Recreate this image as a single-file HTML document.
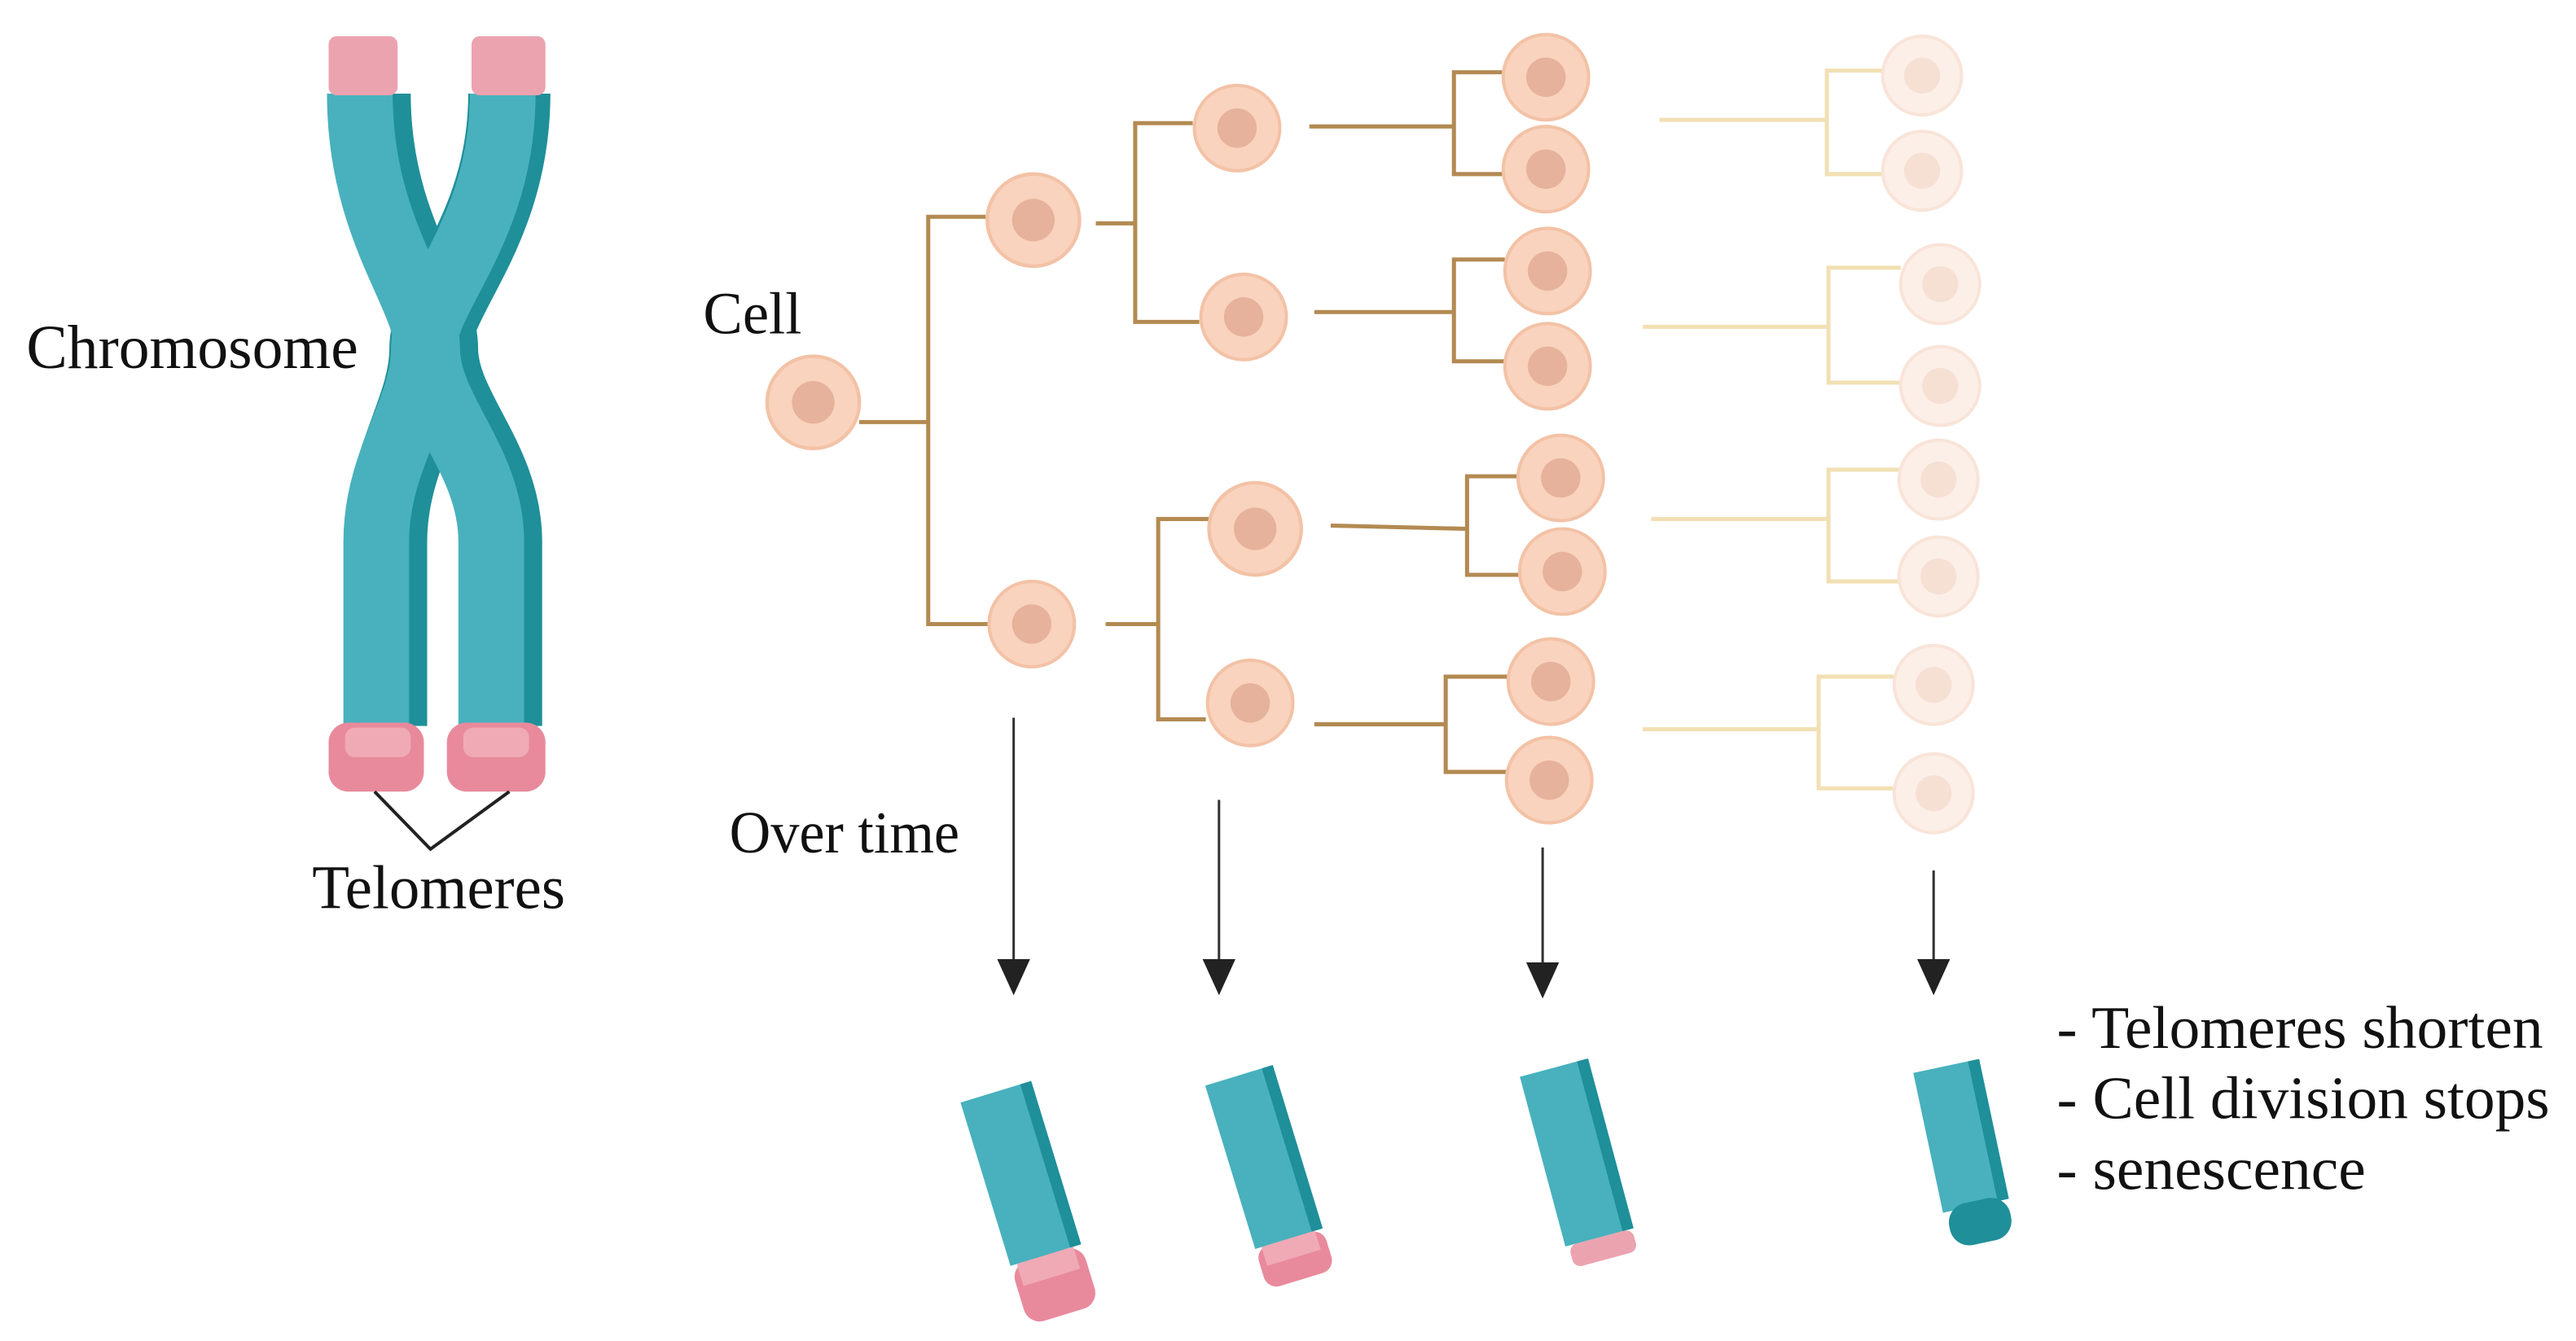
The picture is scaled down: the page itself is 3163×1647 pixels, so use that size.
<!DOCTYPE html>
<html><head><meta charset="utf-8"><style>
html,body{margin:0;padding:0;background:#fff;}
svg{display:block;}
text{font-family:"Liberation Serif",serif;fill:#111;}
</style></head><body>
<svg width="3163" height="1647" viewBox="0 0 1568 816.5" xmlns="http://www.w3.org/2000/svg">
<defs>
<g id="cell"><circle r="26" fill="#f9d3bd" stroke="#f3c2a6" stroke-width="2"/><circle r="12" fill="#e6b29b"/></g>
<g id="fcell"><circle r="24" fill="#fcefe8" stroke="#f9e4d8" stroke-width="2"/><circle r="11" fill="#f6e0d4"/></g>
</defs>
<!-- chromosome -->
<g fill="none" stroke-linecap="butt">
<path d="M225,57 C225,140 266,180 266,212 C266,250 305,280 305,330 L305,442" stroke="#1f8f99" stroke-width="50"/>
<path d="M310,57 C310,140 262,180 262,212 C262,250 235,280 235,330 L235,442" stroke="#1f8f99" stroke-width="50"/>
<path d="M219,57 C219,140 260,180 260,212 C260,250 299,280 299,330 L299,442" stroke="#48b1bd" stroke-width="40"/>
<path d="M306,57 C306,140 258,180 258,212 C258,250 229,280 229,330 L229,442" stroke="#48b1bd" stroke-width="40"/>
</g>
<rect x="200" y="22" width="42" height="36" rx="5" fill="#eca3b0"/>
<rect x="287" y="22" width="45" height="36" rx="5" fill="#eca3b0"/>
<rect x="200" y="440" width="58" height="42" rx="12" fill="#e88a9c"/>
<rect x="272" y="440" width="60" height="42" rx="12" fill="#e88a9c"/>
<rect x="210" y="443" width="40" height="18" rx="6" fill="#f0aab6"/>
<rect x="282" y="443" width="40" height="18" rx="6" fill="#f0aab6"/>
<polyline points="228,482 262,517 310,482" fill="none" stroke="#222" stroke-width="2"/>
<text x="16" y="224" font-size="38" textLength="202" lengthAdjust="spacingAndGlyphs">Chromosome</text>
<text x="190" y="553" font-size="38" textLength="154" lengthAdjust="spacingAndGlyphs">Telomeres</text>
<text x="428" y="203" font-size="36" textLength="60" lengthAdjust="spacingAndGlyphs">Cell</text>
<text x="444" y="519" font-size="36" textLength="140" lengthAdjust="spacingAndGlyphs">Over time</text>
<text x="1252" y="638" font-size="37" textLength="296" lengthAdjust="spacingAndGlyphs">- Telomeres shorten</text>
<text x="1252" y="681" font-size="37" textLength="300" lengthAdjust="spacingAndGlyphs">- Cell division stops</text>
<text x="1252" y="724" font-size="37" textLength="188" lengthAdjust="spacingAndGlyphs">- senescence</text>
<!-- tree lines -->
<g fill="none" stroke="#b38a52" stroke-width="2.5">
<path d="M523,257H565M600,132H565V380H604"/>
<path d="M667,136H691M726,75H691V196H730"/>
<path d="M673,380H705M738,316H705V438H734"/>
<path d="M797,77H885M915,44H885V106H915"/>
<path d="M800,190H885M916,158H885V220H916"/>
<path d="M810,320L893,322M924,290H893V350H925"/>
<path d="M800,441H880M918,412H880V470H917"/>
</g>
<g fill="none" stroke="#f2e0b4" stroke-width="2.5">
<path d="M1010,73H1112M1146,43H1112V106H1146"/>
<path d="M1000,199H1113M1157,163H1113V233H1157"/>
<path d="M1005,316H1113M1156,286H1113V354H1156"/>
<path d="M1000,444H1107M1153,412H1107V480H1153"/>
</g>
<use href="#cell" x="495" y="245" transform="translate(495,245) scale(1.08) translate(-495,-245)"/>
<use href="#cell" x="629" y="134" transform="translate(629,134) scale(1.08) translate(-629,-134)"/>
<use href="#cell" x="628" y="380"/>
<use href="#cell" x="753" y="78"/><use href="#cell" x="757" y="193"/>
<use href="#cell" x="764" y="322" transform="translate(764,322) scale(1.08) translate(-764,-322)"/><use href="#cell" x="761" y="428"/>
<use href="#cell" x="941" y="47"/><use href="#cell" x="941" y="103"/>
<use href="#cell" x="942" y="165"/><use href="#cell" x="942" y="223"/>
<use href="#cell" x="950" y="291"/><use href="#cell" x="951" y="348"/>
<use href="#cell" x="944" y="415"/><use href="#cell" x="943" y="475"/>
<use href="#fcell" x="1170" y="46"/><use href="#fcell" x="1170" y="104"/>
<use href="#fcell" x="1181" y="173"/><use href="#fcell" x="1181" y="235"/>
<use href="#fcell" x="1180" y="292"/><use href="#fcell" x="1180" y="351"/>
<use href="#fcell" x="1177" y="417"/><use href="#fcell" x="1177" y="483"/>
<!-- arrows -->
<g stroke="#333" stroke-width="1.5">
<line x1="617" y1="437" x2="617" y2="590"/><line x1="742" y1="487" x2="742" y2="590"/>
<line x1="939" y1="516" x2="939" y2="592"/><line x1="1177" y1="530" x2="1177" y2="590"/>
</g>
<g fill="#222">
<polygon points="607,584 627,584 617,606"/><polygon points="732,584 752,584 742,606"/>
<polygon points="929,586 949,586 939,608"/><polygon points="1167,584 1187,584 1177,606"/>
</g>
<!-- bottom chromosome pieces -->
<g transform="translate(625,728) rotate(-17)">
<rect x="-22" y="-66" width="44" height="104" fill="#48b1bd"/><rect x="16" y="-66" width="7" height="104" fill="#1f8f99"/>
<rect x="-22" y="38" width="45" height="38" rx="10" fill="#e88a9c"/><rect x="-18" y="38" width="36" height="14" fill="#f0aab6"/>
</g>
<g transform="translate(773,718) rotate(-17)">
<rect x="-21" y="-66" width="42" height="104" fill="#48b1bd"/><rect x="15" y="-66" width="7" height="104" fill="#1f8f99"/>
<rect x="-21" y="38" width="43" height="26" rx="8" fill="#e88a9c"/><rect x="-17" y="38" width="34" height="12" fill="#f0aab6"/>
</g>
<g transform="translate(962,712) rotate(-15)">
<rect x="-21" y="-64" width="42" height="107" fill="#48b1bd"/><rect x="15" y="-64" width="7" height="107" fill="#1f8f99"/>
<rect x="-19" y="43" width="40" height="14" rx="5" fill="#eca3b0"/>
</g>
<g transform="translate(1195,700) rotate(-12)">
<rect x="-20" y="-52" width="40" height="87" fill="#48b1bd"/><rect x="14" y="-52" width="7" height="87" fill="#1f8f99"/>
<rect x="-18" y="32" width="38" height="26" rx="12" fill="#1f8f99"/>
</g>
</svg>
</body></html>
